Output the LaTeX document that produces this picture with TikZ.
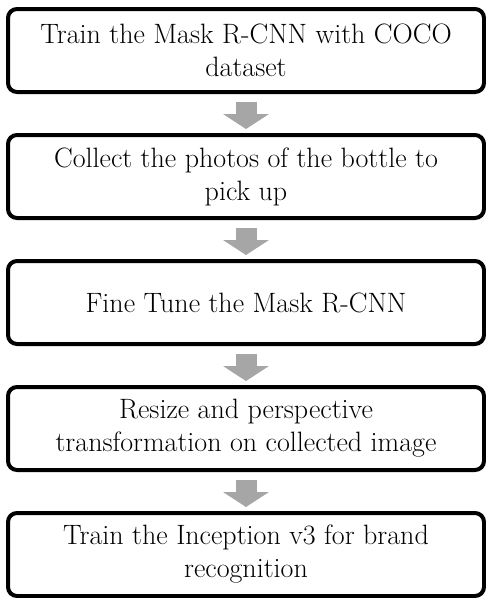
\documentclass[tikz,border=0pt]{standalone}
\usetikzlibrary{positioning,arrows.meta}
\definecolor{arrowgray}{RGB}{166,166,166}
\tikzset{
  stepbox/.style={draw=black, line width=4pt, rounded corners=9pt,
    minimum width=476pt, minimum height=83pt, inner sep=0pt, outer sep=0pt,
    align=center, font=\fontsize{28}{33}\selectfont},
  flowarrow/.style={draw=arrowgray, line width=21pt,
    -{Triangle[width=46pt,length=15pt,line width=0pt]},
    shorten <=10pt, shorten >=6pt}
}
\begin{document}
\begin{tikzpicture}
  \useasboundingbox (0,0) rectangle (486pt,-598pt);
  \node[stepbox] (train) at (246pt,-50.5pt) {Train the Mask R-CNN with COCO\\dataset};
  \node[stepbox, below=43pt of train] (collect) {Collect the photos of the bottle to\\pick up};
  \node[stepbox, below=43pt of collect] (tune) {Fine Tune the Mask R-CNN};
  \node[stepbox, below=43pt of tune] (resize) {Resize and perspective\\transformation on collected image};
  \node[stepbox, below=43pt of resize] (inception) {Train the Inception v3 for brand\\recognition};
  \draw[flowarrow] (train) -- (collect);
  \draw[flowarrow] (collect) -- (tune);
  \draw[flowarrow] (tune) -- (resize);
  \draw[flowarrow] (resize) -- (inception);
\end{tikzpicture}
\end{document}
